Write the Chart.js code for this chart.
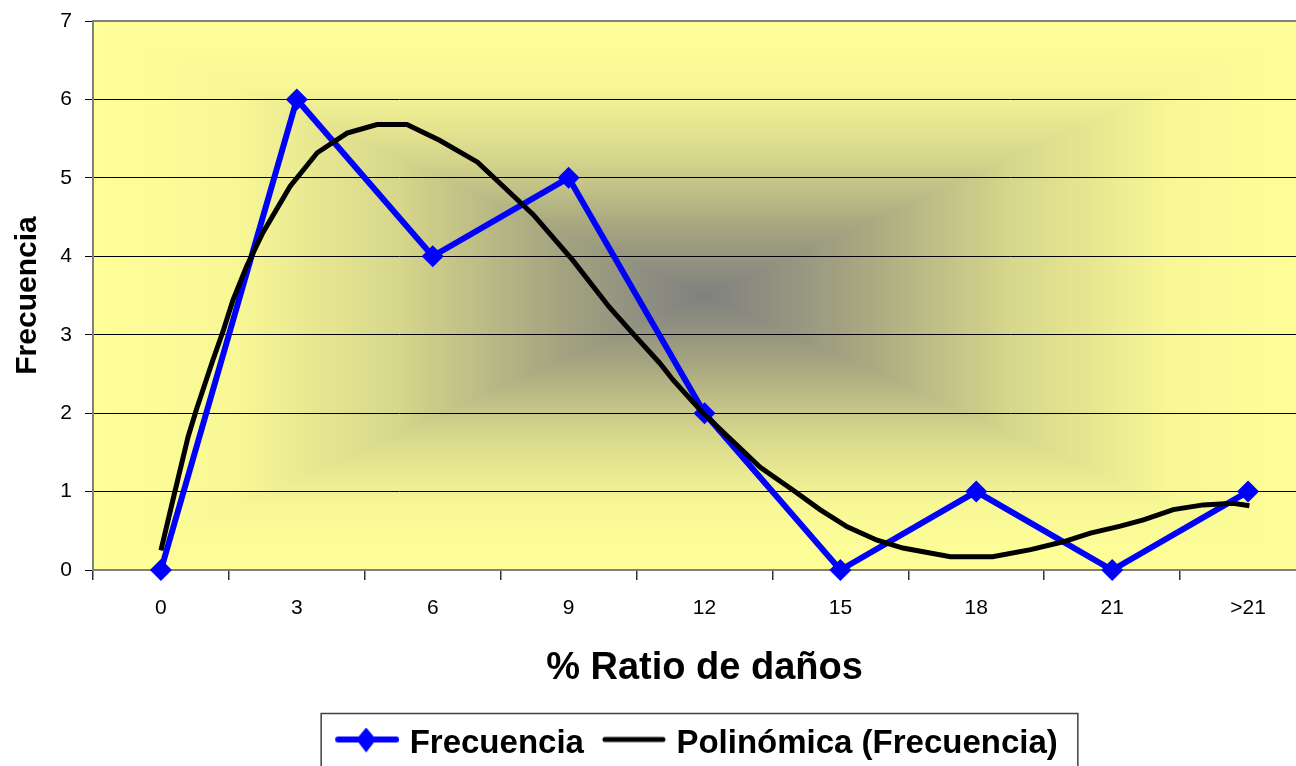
<!DOCTYPE html>
<html>
<head>
<meta charset="utf-8">
<script src="https://cdn.jsdelivr.net/npm/chart.js@4.4.0/dist/chart.umd.min.js"></script>
<style>
  html, body { margin: 0; padding: 0; background: #fff; overflow: hidden; }
  #wrap { width: 1330px; height: 770px; position: relative; }
</style>
</head>
<body>
<div id="wrap"><canvas id="chart"></canvas></div>
<script>
// Data
const categories = ['0', '3', '6', '9', '12', '15', '18', '21', '>21'];
const frecuencia = [0, 6, 4, 5, 2, 0, 1, 0, 1];

// Polynomial trend line (x = category position, y = value)
const trendPos = [0, 0.10, 0.20, 0.26, 0.375, 0.46, 0.53, 0.63, 0.75, 0.95, 1.15, 1.37, 1.59, 1.81,
    2.05, 2.33, 2.52, 2.74, 3.03, 3.30, 3.47, 3.67, 3.77, 3.99, 4.41, 4.65, 4.85, 5.05, 5.27,
    5.46, 5.81, 6.12, 6.40, 6.64, 6.84, 7.06, 7.23, 7.45, 7.67, 7.89, 8.01];
const trendVal = [0.25, 0.98, 1.70, 2.04, 2.64, 3.06, 3.44, 3.87, 4.30, 4.89, 5.32, 5.57, 5.68, 5.68,
    5.48, 5.20, 4.89, 4.53, 3.95, 3.35, 3.02, 2.64, 2.42, 2.00, 1.31, 1.02, 0.77, 0.55, 0.38,
    0.28, 0.17, 0.17, 0.26, 0.36, 0.47, 0.56, 0.64, 0.77, 0.83, 0.85, 0.82];

const yMin = 0, yMax = 7;

// Legend samples (line + marker like Excel)
function legendSample(color, width, marker) {
    const c = document.createElement('canvas');
    c.width = 70; c.height = 32;
    const g = c.getContext('2d');
    g.strokeStyle = color;
    g.lineWidth = width;
    g.lineCap = 'round';
    g.beginPath();
    g.moveTo(9, 12);
    g.lineTo(67, 12);
    g.stroke();
    if (marker) {
        g.fillStyle = color;
        g.beginPath();
        g.moveTo(37, 0);
        g.lineTo(47, 12);
        g.lineTo(37, 25);
        g.lineTo(27, 12);
        g.closePath();
        g.fill();
    }
    return c;
}
const legendSamples = [legendSample('#0000ff', 6, true), legendSample('#000000', 5, false)];

// gradient stops from the edge (0) to the centre (0.5) and back
function addStops(g) {
    const stops = [
        [0, 'rgb(255,255,153)'], [0.12, 'rgb(247,247,150)'], [0.25, 'rgb(214,214,140)'],
        [0.38, 'rgb(164,164,128)'], [0.5, 'rgb(128,128,128)']
    ];
    stops.forEach(([p, c]) => g.addColorStop(p, c));
    stops.slice(0, -1).reverse().forEach(([p, c]) => g.addColorStop(1 - p, c));
}

// Plot area background: rectangular "from center" gradient
const plotBackground = {
    id: 'plotBackground',
    afterUpdate(chart) {
        // nudge the legend a bit to the left, like the original
        const lg = chart.legend;
        lg.left -= 8; lg.right -= 8;
        (lg.legendHitBoxes || []).forEach(h => { h.left -= 8; });
    },
    beforeDraw(chart) {
        const { ctx, chartArea: a } = chart;
        const cx = (a.left + a.right) / 2, cy = (a.top + a.bottom) / 2;
        ctx.save();
        const gh = ctx.createLinearGradient(a.left, 0, a.right, 0);
        addStops(gh);
        ctx.fillStyle = gh;
        ctx.fillRect(a.left, a.top, a.right - a.left, a.bottom - a.top);
        const gv = ctx.createLinearGradient(0, a.top, 0, a.bottom);
        addStops(gv);
        ctx.beginPath();
        ctx.moveTo(a.left, a.top); ctx.lineTo(a.right, a.top); ctx.lineTo(cx, cy); ctx.closePath();
        ctx.moveTo(a.left, a.bottom); ctx.lineTo(a.right, a.bottom); ctx.lineTo(cx, cy); ctx.closePath();
        ctx.fillStyle = gv;
        ctx.fill();
        ctx.restore();
    },
    beforeDatasetsDraw(chart) {
        const { ctx, chartArea: a } = chart;
        ctx.save();
        ctx.strokeStyle = '#808080';
        ctx.lineWidth = 2;
        ctx.strokeRect(a.left, a.top, a.right - a.left, a.bottom - a.top);
        ctx.restore();
    },
    afterDraw(chart) {
        // frame around the legend
        const hb = chart.legend.legendHitBoxes;
        if (!hb || !hb.length) return;
        const last = hb[hb.length - 1];
        const l = hb[0].left - 14, r = last.left + last.width + 20;
        const t = hb[0].top + hb[0].height / 2 - 30;
        const ctx = chart.ctx;
        ctx.save();
        ctx.strokeStyle = '#404040';
        ctx.lineWidth = 1.5;
        ctx.strokeRect(l, t, r - l, 100);
        ctx.restore();
    }
};

const ctx = document.getElementById('chart').getContext('2d');
new Chart(ctx, {
    type: 'line',
    data: {
        labels: categories,
        datasets: [{
            label: 'Frecuencia',
            data: frecuencia,
            borderColor: '#0000ff',
            backgroundColor: '#0000ff',
            borderWidth: 6,
            pointStyle: 'rectRot',
            pointRadius: 11,
            pointBorderWidth: 0,
            tension: 0,
            clip: false,
            order: 1
        }, {
            label: 'Polinómica (Frecuencia)',
            data: trendPos.map((p, i) => ({ x: p, y: trendVal[i] })),
            xAxisID: 'x2',
            borderColor: '#000000',
            borderWidth: 5,
            pointRadius: 0,
            tension: 0,
            clip: false,
            order: 0
        }]
    },
    options: {
        responsive: true,
        maintainAspectRatio: false,
        animation: false,
        layout: { autoPadding: false, padding: { left: 0, right: 14, top: 21, bottom: 0 } },
        plugins: {
            tooltip: { enabled: false },
            legend: {
                position: 'bottom',
                fullSize: false,
                labels: {
                    usePointStyle: true,
                    pointStyleWidth: 58,
                    padding: 18,
                    color: '#000',
                    font: { family: 'Liberation Sans, Arial, sans-serif', size: 33, weight: 'bold' },
                    generateLabels(chart) {
                        const items = Chart.defaults.plugins.legend.labels.generateLabels(chart);
                        items.sort((a, b) => a.datasetIndex - b.datasetIndex);
                        items.forEach(it => { it.pointStyle = legendSamples[it.datasetIndex]; });
                        return items;
                    }
                }
            }
        },
        scales: {
            x: {
                type: 'category',
                offset: true,
                afterFit(s) { s.height = 139; },
                grid: { offset: true, drawOnChartArea: false, tickLength: 10, color: '#333', lineWidth: 1.5 },
                border: { color: '#808080', width: 2 },
                ticks: { color: '#000', padding: 16, font: { family: 'Liberation Sans, Arial, sans-serif', size: 21 } },
                title: {
                    display: true,
                    text: '% Ratio de daños',
                    color: '#000',
                    padding: { top: 0, bottom: 18 },
                    font: { family: 'Liberation Sans, Arial, sans-serif', size: 38, weight: 'bold' }
                }
            },
            x2: {
                type: 'linear',
                display: false,
                min: -0.5,
                max: 8.5
            },
            y: {
                min: yMin,
                max: yMax,
                afterFit(s) { s.width = 93; s.paddingTop = 0; s.paddingBottom = 0; },
                grid: { color: '#000', lineWidth: 1, tickLength: 8 },
                border: { color: '#808080', width: 2 },
                ticks: { stepSize: 1, color: '#000', padding: 13, font: { family: 'Liberation Sans, Arial, sans-serif', size: 21 } },
                title: {
                    display: true,
                    text: 'Frecuencia',
                    color: '#000',
                    padding: { top: 10, bottom: 0 },
                    font: { family: 'Liberation Sans, Arial, sans-serif', size: 30, weight: 'bold' }
                }
            }
        }
    },
    plugins: [plotBackground]
});
</script>
</body>
</html>
